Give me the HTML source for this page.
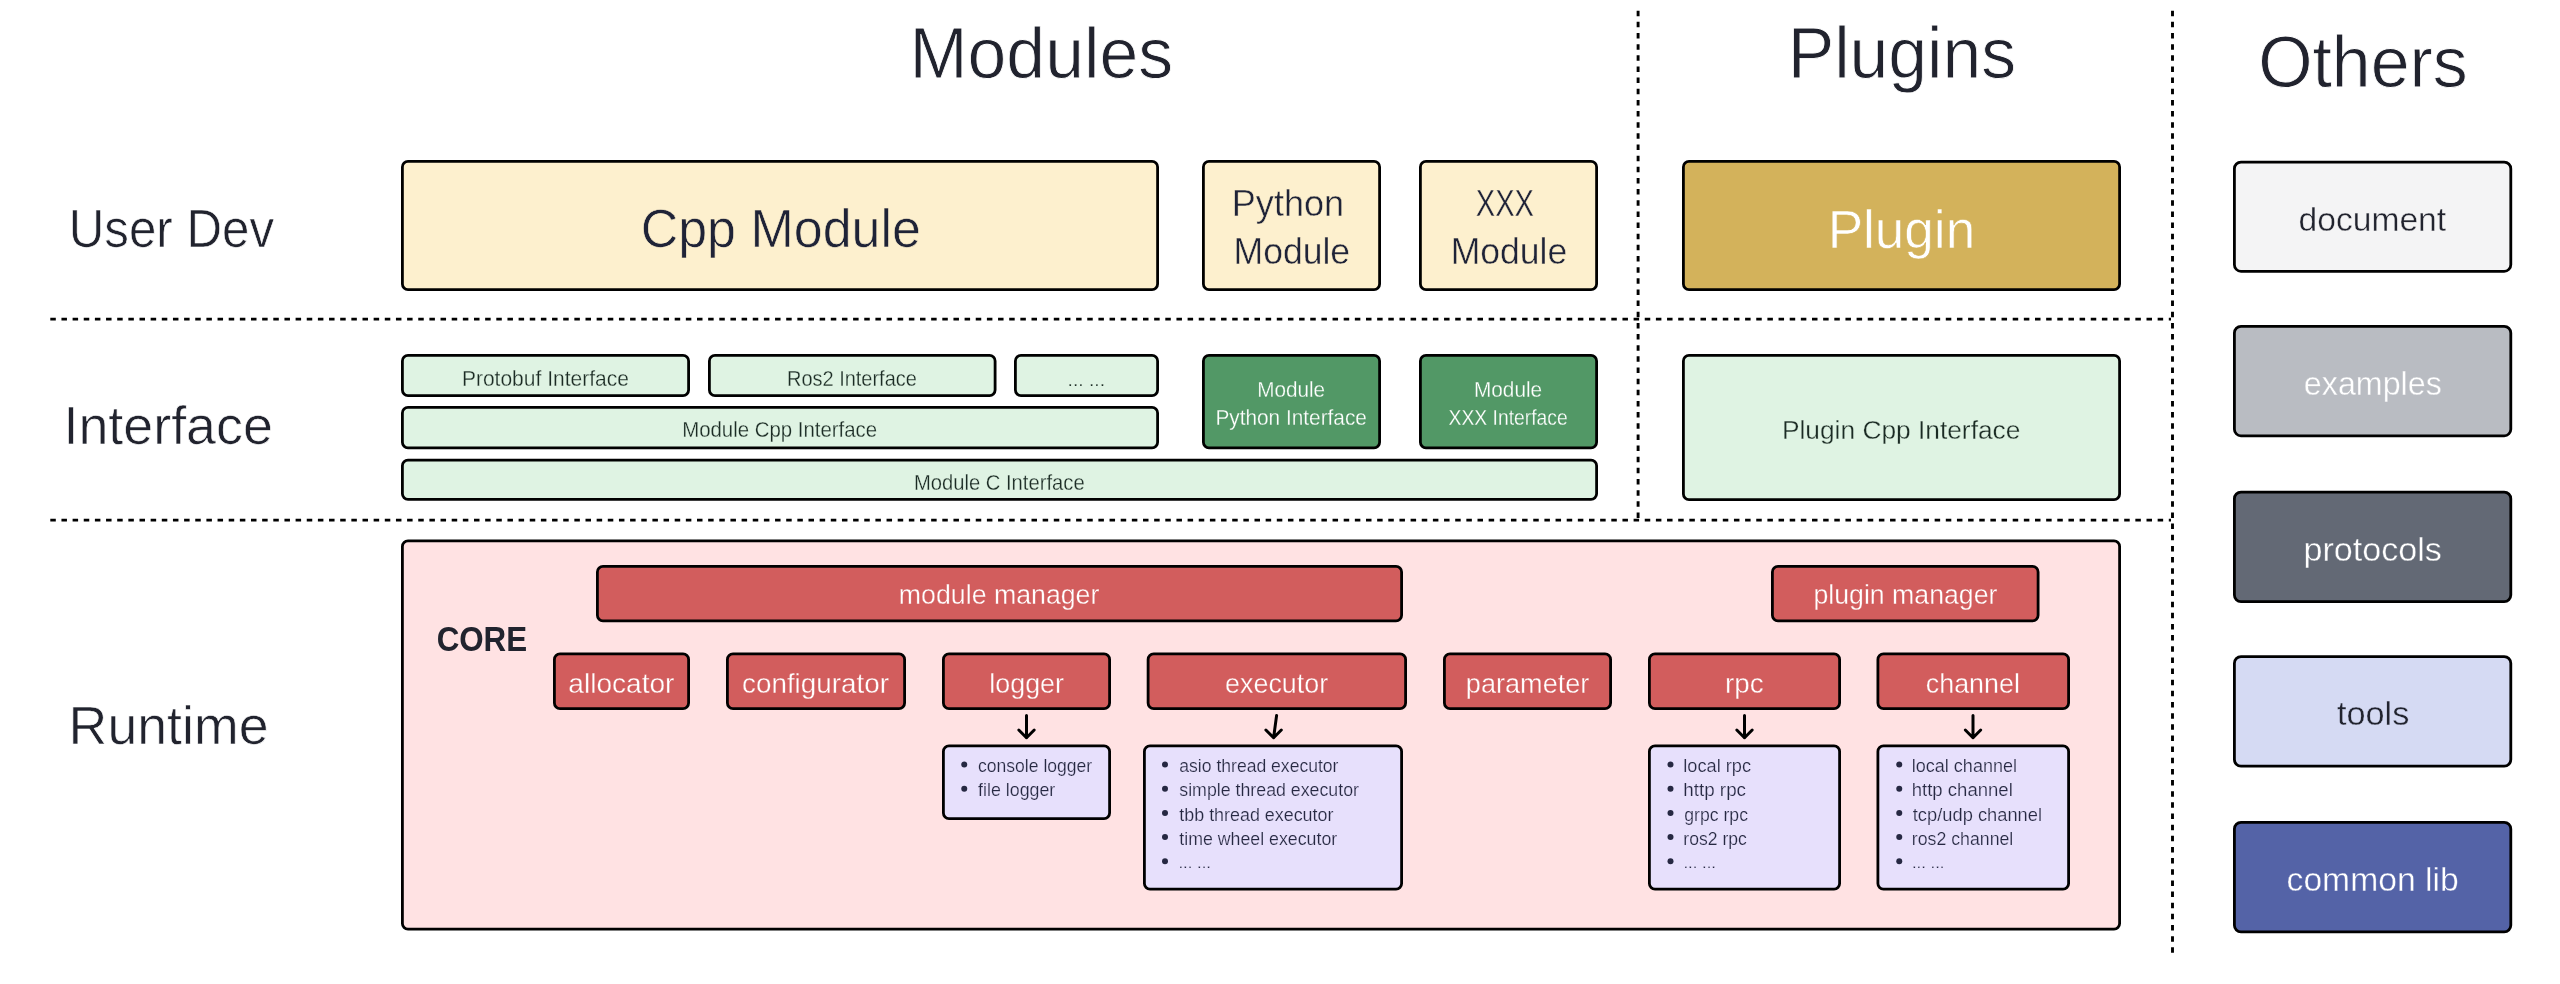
<!DOCTYPE html>
<html lang="en">
<head>
<meta charset="utf-8">
<title>Architecture</title>
<style>
html,body{margin:0;padding:0;background:#ffffff;}
body{width:2560px;height:984px;overflow:hidden;}
svg{display:block;will-change:transform;}
text{font-family:"Liberation Sans", sans-serif;white-space:pre;}
</style>
</head>
<body>
<svg width="2560" height="984" viewBox="0 0 2560 984">
<rect x="0" y="0" width="2560" height="984" fill="#ffffff"/>
<g stroke="#000" stroke-width="2.9" stroke-dasharray="5.5 5.65" fill="none">
<line x1="50.3" y1="319.1" x2="2171" y2="319.1"/>
<line x1="50.3" y1="520.1" x2="2171" y2="520.1"/>
<line x1="1638.1" y1="10.7" x2="1638.1" y2="519"/>
<line x1="2172.5" y1="10.7" x2="2172.5" y2="953"/>
</g>
<g stroke="#000" stroke-width="2.8">
<rect x="402.4" y="161.4" width="755.2" height="128.2" rx="5.6" ry="5.6" fill="#fdf0ce"/>
<rect x="1203.4" y="161.4" width="176.2" height="128.2" rx="5.6" ry="5.6" fill="#fdf0ce"/>
<rect x="1420.4" y="161.4" width="176.2" height="128.2" rx="5.6" ry="5.6" fill="#fdf0ce"/>
<rect x="1683.4" y="161.4" width="436.2" height="128.2" rx="5.6" ry="5.6" fill="#d3b25b"/>
<rect x="402.4" y="355.4" width="286.2" height="40.2" rx="5.6" ry="5.6" fill="#dff3e3"/>
<rect x="709.4" y="355.4" width="285.7" height="40.2" rx="5.6" ry="5.6" fill="#dff3e3"/>
<rect x="1015.4" y="355.4" width="142.2" height="40.2" rx="5.6" ry="5.6" fill="#dff3e3"/>
<rect x="402.4" y="407.4" width="755.2" height="40.5" rx="5.6" ry="5.6" fill="#dff3e3"/>
<rect x="402.4" y="460.1" width="1194.2" height="39.3" rx="5.6" ry="5.6" fill="#dff3e3"/>
<rect x="1203.4" y="355.4" width="176.2" height="92.5" rx="5.6" ry="5.6" fill="#529866"/>
<rect x="1420.4" y="355.4" width="176.2" height="92.5" rx="5.6" ry="5.6" fill="#529866"/>
<rect x="1683.4" y="355.4" width="436.2" height="144.2" rx="5.6" ry="5.6" fill="#dff3e3"/>
<rect x="402.4" y="540.9" width="1717.2" height="388.2" rx="5.6" ry="5.6" fill="#ffe2e3"/>
<rect x="597.4" y="566.4" width="804.2" height="54.5" rx="5.6" ry="5.6" fill="#d25d5d"/>
<rect x="1772.4" y="566.4" width="265.7" height="54.5" rx="5.6" ry="5.6" fill="#d25d5d"/>
<rect x="554.4" y="653.9" width="134.2" height="54.7" rx="5.6" ry="5.6" fill="#d25d5d"/>
<rect x="727.4" y="653.9" width="177.2" height="54.7" rx="5.6" ry="5.6" fill="#d25d5d"/>
<rect x="943.4" y="653.9" width="166.2" height="54.7" rx="5.6" ry="5.6" fill="#d25d5d"/>
<rect x="1148.1" y="653.9" width="257.5" height="54.7" rx="5.6" ry="5.6" fill="#d25d5d"/>
<rect x="1444.4" y="653.9" width="166.2" height="54.7" rx="5.6" ry="5.6" fill="#d25d5d"/>
<rect x="1649.4" y="653.9" width="190.2" height="54.7" rx="5.6" ry="5.6" fill="#d25d5d"/>
<rect x="1877.9" y="653.9" width="190.7" height="54.7" rx="5.6" ry="5.6" fill="#d25d5d"/>
<rect x="943.4" y="745.8" width="166.2" height="72.8" rx="5.6" ry="5.6" fill="#e7e0fc"/>
<rect x="1144.4" y="745.8" width="257.2" height="143.3" rx="5.6" ry="5.6" fill="#e7e0fc"/>
<rect x="1649.4" y="745.8" width="190.2" height="143.3" rx="5.6" ry="5.6" fill="#e7e0fc"/>
<rect x="1877.9" y="745.8" width="190.7" height="143.3" rx="5.6" ry="5.6" fill="#e7e0fc"/>
<rect x="2234.4" y="162.15" width="276.4" height="109.15" rx="6.6" ry="6.6" fill="#f4f4f5"/>
<rect x="2234.4" y="326.4" width="276.4" height="109.4" rx="6.6" ry="6.6" fill="#b9bcc2"/>
<rect x="2234.4" y="492.15" width="276.4" height="109.45" rx="6.6" ry="6.6" fill="#636975"/>
<rect x="2234.4" y="656.65" width="276.4" height="109.55" rx="6.6" ry="6.6" fill="#d5daf3"/>
<rect x="2234.4" y="822.4" width="276.4" height="109.5" rx="6.6" ry="6.6" fill="#5463a7"/>
</g>
<g stroke="#000" stroke-width="3" fill="none" stroke-linecap="round" stroke-linejoin="round">
<path d="M1026.5 715.4 L1026.5 737.7 M1018.8 730 L1026.5 737.7 L1034.2 730"/>
<path d="M1276.6 715.4 L1273.6 737.7 M1265.9 730 L1273.6 737.7 L1281.3 730"/>
<path d="M1744.5 715.4 L1744.5 737.7 M1736.8 730 L1744.5 737.7 L1752.2 730"/>
<path d="M1973 715.4 L1973 737.7 M1965.3 730 L1973 737.7 L1980.7 730"/>
</g>
<g fill="#262842">
<circle cx="964.25" cy="764.5" r="3"/>
<circle cx="964.25" cy="788.7" r="3"/>
<circle cx="1165" cy="764.5" r="3"/>
<circle cx="1165" cy="788.7" r="3"/>
<circle cx="1165" cy="812.9" r="3"/>
<circle cx="1165" cy="837.1" r="3"/>
<circle cx="1165" cy="861.3" r="3"/>
<circle cx="1670.5" cy="764.5" r="3"/>
<circle cx="1670.5" cy="788.7" r="3"/>
<circle cx="1670.5" cy="812.9" r="3"/>
<circle cx="1670.5" cy="837.1" r="3"/>
<circle cx="1670.5" cy="861.3" r="3"/>
<circle cx="1899.25" cy="764.5" r="3"/>
<circle cx="1899.25" cy="788.7" r="3"/>
<circle cx="1899.25" cy="812.9" r="3"/>
<circle cx="1899.25" cy="837.1" r="3"/>
<circle cx="1899.25" cy="861.3" r="3"/>
</g>
<text transform="translate(909.50 77.68) scale(0.9657 1)" font-size="72.217" font-weight="400" fill="#21232e" stroke="#ffffff" stroke-width="0.85">Modules</text>
<text transform="translate(1787.65 77.53) scale(0.9651 1)" font-size="72.217" font-weight="400" fill="#21232e" stroke="#ffffff" stroke-width="0.85">Plugins</text>
<text transform="translate(2258.17 86.93) scale(0.9670 1)" font-size="72.217" font-weight="400" fill="#21232e" stroke="#ffffff" stroke-width="0.85">Others</text>
<text transform="translate(68.78 247.42) scale(0.9139 1)" font-size="53.909" font-weight="400" fill="#21232e" stroke="#ffffff" stroke-width="0.64">User Dev</text>
<text transform="translate(63.44 444.07) scale(0.9988 1)" font-size="53.909" font-weight="400" fill="#21232e" stroke="#ffffff" stroke-width="0.64">Interface</text>
<text transform="translate(68.60 744.32) scale(0.9963 1)" font-size="53.909" font-weight="400" fill="#21232e" stroke="#ffffff" stroke-width="0.64">Runtime</text>
<text transform="translate(640.65 247.42) scale(0.9647 1)" font-size="53.909" font-weight="400" fill="#1f2337" stroke="#fdf0ce" stroke-width="0.64">Cpp Module</text>
<text transform="translate(1827.64 247.52) scale(0.9846 1)" font-size="53.909" font-weight="400" fill="#ffffff" stroke="#d3b25b" stroke-width="0.64">Plugin</text>
<text transform="translate(1231.80 216.06) scale(0.9911 1)" font-size="36.414" font-weight="400" fill="#1f2337" stroke="#fdf0ce" stroke-width="0.43">Python</text>
<text transform="translate(1233.53 264.41) scale(0.9765 1)" font-size="36.414" font-weight="400" fill="#1f2337" stroke="#fdf0ce" stroke-width="0.43">Module</text>
<text transform="translate(1475.79 216.06) scale(0.7997 1)" font-size="36.414" font-weight="400" fill="#1f2337" stroke="#fdf0ce" stroke-width="0.43">XXX</text>
<text transform="translate(1450.73 264.41) scale(0.9757 1)" font-size="36.414" font-weight="400" fill="#1f2337" stroke="#fdf0ce" stroke-width="0.43">Module</text>
<text transform="translate(2298.56 230.80) scale(0.9868 1)" font-size="34.074" font-weight="400" fill="#21232e" stroke="#f4f4f5" stroke-width="0.40">document</text>
<text transform="translate(2303.85 395.20) scale(0.9461 1)" font-size="34.074" font-weight="400" fill="#ffffff" stroke="#b9bcc2" stroke-width="0.40">examples</text>
<text transform="translate(2303.40 560.80) scale(1.0016 1)" font-size="34.074" font-weight="400" fill="#ffffff" stroke="#636975" stroke-width="0.40">protocols</text>
<text transform="translate(2336.90 724.95) scale(1.0068 1)" font-size="34.074" font-weight="400" fill="#21232e" stroke="#d5daf3" stroke-width="0.40">tools</text>
<text transform="translate(2286.56 891.20) scale(0.9880 1)" font-size="34.074" font-weight="400" fill="#ffffff" stroke="#5463a7" stroke-width="0.40">common lib</text>
<text transform="translate(461.90 385.88) scale(0.9702 1)" font-size="21.665" font-weight="400" fill="#1b2b24" stroke="#dff3e3" stroke-width="0.26">Protobuf Interface</text>
<text transform="translate(786.95 385.88) scale(0.9228 1)" font-size="21.665" font-weight="400" fill="#1b2b24" stroke="#dff3e3" stroke-width="0.26">Ros2 Interface</text>
<text transform="translate(1067.60 386.01) scale(1.0455 1)" font-size="18.415" font-weight="400" fill="#1b2b24" stroke="#dff3e3" stroke-width="0.22">... ...</text>
<text transform="translate(682.18 437.13) scale(0.9417 1)" font-size="21.665" font-weight="400" fill="#1b2b24" stroke="#dff3e3" stroke-width="0.26">Module Cpp Interface</text>
<text transform="translate(913.94 489.63) scale(0.9331 1)" font-size="21.665" font-weight="400" fill="#1b2b24" stroke="#dff3e3" stroke-width="0.26">Module C Interface</text>
<text transform="translate(1257.16 396.63) scale(0.9574 1)" font-size="21.665" font-weight="400" fill="#ffffff" stroke="#529866" stroke-width="0.26">Module</text>
<text transform="translate(1215.41 425.13) scale(0.9607 1)" font-size="21.665" font-weight="400" fill="#ffffff" stroke="#529866" stroke-width="0.26">Python Interface</text>
<text transform="translate(1473.91 396.63) scale(0.9610 1)" font-size="21.665" font-weight="400" fill="#ffffff" stroke="#529866" stroke-width="0.26">Module</text>
<text transform="translate(1448.62 425.13) scale(0.8909 1)" font-size="21.665" font-weight="400" fill="#ffffff" stroke="#529866" stroke-width="0.26">XXX Interface</text>
<text transform="translate(1781.95 438.86) scale(0.9952 1)" font-size="26.446" font-weight="400" fill="#1b2b24" stroke="#dff3e3" stroke-width="0.31">Plugin Cpp Interface</text>
<text transform="translate(436.63 651.25) scale(0.8701 1)" font-size="36" font-weight="700" fill="#21232e" stroke="#ffe2e3" stroke-width="0.00">CORE</text>
<text transform="translate(898.85 604.16) scale(0.9920 1)" font-size="26.954" font-weight="400" fill="#ffffff" stroke="#d25d5d" stroke-width="0.32">module manager</text>
<text transform="translate(1813.45 604.16) scale(0.9902 1)" font-size="26.954" font-weight="400" fill="#ffffff" stroke="#d25d5d" stroke-width="0.32">plugin manager</text>
<text transform="translate(568.30 692.66) scale(1.0418 1)" font-size="26.954" font-weight="400" fill="#ffffff" stroke="#d25d5d" stroke-width="0.32">allocator</text>
<text transform="translate(742.06 692.66) scale(1.0321 1)" font-size="26.954" font-weight="400" fill="#ffffff" stroke="#d25d5d" stroke-width="0.32">configurator</text>
<text transform="translate(989.35 692.66) scale(0.9954 1)" font-size="26.954" font-weight="400" fill="#ffffff" stroke="#d25d5d" stroke-width="0.32">logger</text>
<text transform="translate(1225.09 692.66) scale(0.9973 1)" font-size="26.954" font-weight="400" fill="#ffffff" stroke="#d25d5d" stroke-width="0.32">executor</text>
<text transform="translate(1465.83 692.66) scale(1.0063 1)" font-size="26.954" font-weight="400" fill="#ffffff" stroke="#d25d5d" stroke-width="0.32">parameter</text>
<text transform="translate(1725.06 692.66) scale(1.0310 1)" font-size="26.954" font-weight="400" fill="#ffffff" stroke="#d25d5d" stroke-width="0.32">rpc</text>
<text transform="translate(1925.84 692.66) scale(0.9967 1)" font-size="26.954" font-weight="400" fill="#ffffff" stroke="#d25d5d" stroke-width="0.32">channel</text>
<text transform="translate(978.04 772.11) scale(0.9759 1)" font-size="18.003" font-weight="400" fill="#262842" stroke="#e7e0fc" stroke-width="0.21">console logger</text>
<text transform="translate(978.04 796.31) scale(0.9899 1)" font-size="18.003" font-weight="400" fill="#262842" stroke="#e7e0fc" stroke-width="0.21">file logger</text>
<text transform="translate(1179.29 772.11) scale(0.9764 1)" font-size="18.003" font-weight="400" fill="#262842" stroke="#e7e0fc" stroke-width="0.21">asio thread executor</text>
<text transform="translate(1179.29 796.31) scale(0.9872 1)" font-size="18.003" font-weight="400" fill="#262842" stroke="#e7e0fc" stroke-width="0.21">simple thread executor</text>
<text transform="translate(1179.29 820.51) scale(0.9946 1)" font-size="18.003" font-weight="400" fill="#262842" stroke="#e7e0fc" stroke-width="0.21">tbb thread executor</text>
<text transform="translate(1179.29 844.71) scale(0.9871 1)" font-size="18.003" font-weight="400" fill="#262842" stroke="#e7e0fc" stroke-width="0.21">time wheel executor</text>
<text transform="translate(1178.38 868.19) scale(1.1349 1)" font-size="14.763" font-weight="400" fill="#262842" stroke="#e7e0fc" stroke-width="0.17">... ...</text>
<text transform="translate(1683.28 772.11) scale(1.0112 1)" font-size="18.003" font-weight="400" fill="#262842" stroke="#e7e0fc" stroke-width="0.21">local rpc</text>
<text transform="translate(1683.25 796.31) scale(1.0463 1)" font-size="18.003" font-weight="400" fill="#262842" stroke="#e7e0fc" stroke-width="0.21">http rpc</text>
<text transform="translate(1684.29 820.51) scale(0.9806 1)" font-size="18.003" font-weight="400" fill="#262842" stroke="#e7e0fc" stroke-width="0.21">grpc rpc</text>
<text transform="translate(1683.32 844.71) scale(0.9764 1)" font-size="18.003" font-weight="400" fill="#262842" stroke="#e7e0fc" stroke-width="0.21">ros2 rpc</text>
<text transform="translate(1683.38 868.19) scale(1.1349 1)" font-size="14.763" font-weight="400" fill="#262842" stroke="#e7e0fc" stroke-width="0.17">... ...</text>
<text transform="translate(1911.79 772.11) scale(1.0018 1)" font-size="18.003" font-weight="400" fill="#262842" stroke="#e7e0fc" stroke-width="0.21">local channel</text>
<text transform="translate(1911.76 796.31) scale(1.0305 1)" font-size="18.003" font-weight="400" fill="#262842" stroke="#e7e0fc" stroke-width="0.21">http channel</text>
<text transform="translate(1912.79 820.51) scale(1.0172 1)" font-size="18.003" font-weight="400" fill="#262842" stroke="#e7e0fc" stroke-width="0.21">tcp/udp channel</text>
<text transform="translate(1911.81 844.71) scale(0.9846 1)" font-size="18.003" font-weight="400" fill="#262842" stroke="#e7e0fc" stroke-width="0.21">ros2 channel</text>
<text transform="translate(1911.88 868.19) scale(1.1349 1)" font-size="14.763" font-weight="400" fill="#262842" stroke="#e7e0fc" stroke-width="0.17">... ...</text>
</svg>
</body>
</html>
